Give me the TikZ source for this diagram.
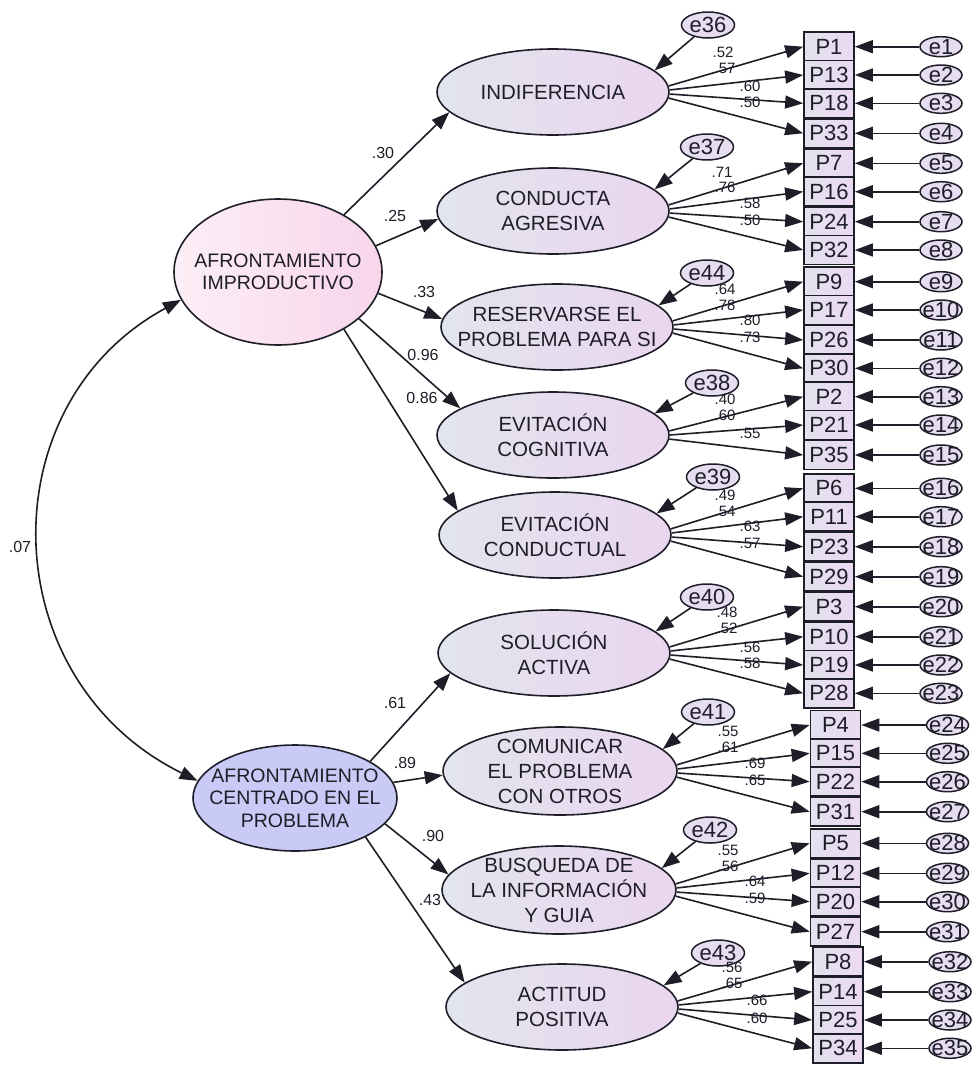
\documentclass[tikz,border=0pt]{standalone}
\usepackage{fontspec}
\setmainfont{Liberation Sans}
\usetikzlibrary{arrows.meta,shapes.geometric}
\definecolor{latL}{HTML}{E2E5EE}
\definecolor{latR}{HTML}{EAD5EF}
\definecolor{impL}{HTML}{FCEFF6}
\definecolor{impR}{HTML}{F8D5EA}
\definecolor{cenC}{HTML}{C9CAF5}
\definecolor{boxL}{HTML}{E3E2EF}
\definecolor{boxR}{HTML}{EBD9F2}
\definecolor{errC}{HTML}{E7DDF1}
\definecolor{ink}{HTML}{1E1E28}
\begin{document}
\begin{tikzpicture}[x=1pt,y=-1pt,
  every node/.style={text=ink},
  lat/.style={ellipse, draw=ink, line width=1.6pt, minimum width=232pt, minimum height=86pt, inner sep=0pt, left color=latL, right color=latR},
  lt/.style={align=center, font=\fontsize{20.5}{25}\selectfont},
  lt2/.style={align=center, font=\fontsize{19.5}{22.5}\selectfont},
  box/.style={rectangle, draw=ink, line width=1.7pt, minimum width=50pt, minimum height=29pt, inner sep=0pt, left color=boxL, right color=boxR, font=\fontsize{22}{22}\selectfont},
  err/.style={ellipse, draw=ink, line width=1.5pt, minimum width=42pt, minimum height=20pt, inner sep=0pt, fill=errC},
  efont/.style={font=\fontsize{22}{22}\selectfont},
  errb/.style={ellipse, draw=ink, line width=1.5pt, minimum width=53pt, minimum height=26pt, inner sep=0pt, fill=errC},
  ebfont/.style={font=\fontsize{22}{22}\selectfont},
  arr/.style={draw=ink, line width=1.6pt, -{Triangle[length=18pt,width=13pt]}},
  pl/.style={font=\fontsize{16}{16}\selectfont, inner sep=0pt},
  ld/.style={font=\fontsize{15}{15}\selectfont, inner sep=0pt}
]
\useasboundingbox (0,0) rectangle (974,1066);
\fill[white] (0,0) rectangle (974,1066);

% second-order latents
\node[ellipse, draw=ink, line width=1.6pt, minimum width=208pt, minimum height=146pt, inner sep=0pt, left color=impL, right color=impR, label={[lt2]center:{AFRONTAMIENTO\\IMPRODUCTIVO}}] (imp) at (278,272) {};
\node[ellipse, draw=ink, line width=1.6pt, minimum width=204pt, minimum height=106pt, inner sep=0pt, fill=cenC, label={[lt2]center:{AFRONTAMIENTO\\CENTRADO EN EL\\PROBLEMA}}] (cen) at (295,798) {};

% first-order latents
\node[lat, label={[lt]center:{INDIFERENCIA}}] (ind) at (553,92) {};
\node[lat, label={[lt]center:{CONDUCTA\\AGRESIVA}}] (con) at (553,211) {};
\node[lat, label={[lt]center:{RESERVARSE EL\\PROBLEMA PARA SI}}] (res) at (557,327) {};
\node[lat, label={[lt]center:{EVITACIÓN\\COGNITIVA}}] (cog) at (553,435) {};
\node[lat, label={[lt]center:{EVITACIÓN\\CONDUCTUAL}}] (cnd) at (555,535) {};
\node[lat, label={[lt]center:{SOLUCIÓN\\ACTIVA}}] (sol) at (554,653) {};
\node[lat, minimum width=234pt, minimum height=88pt, label={[lt]center:{COMUNICAR\\EL PROBLEMA\\CON OTROS}}] (com) at (560,771) {};
\node[lat, minimum width=234pt, minimum height=88pt, label={[lt]center:{BUSQUEDA DE\\LA INFORMACIÓN\\Y GUIA}}] (bus) at (559,890) {};
\node[lat, label={[lt]center:{ACTITUD\\POSITIVA}}] (act) at (562,1007) {};

% disturbance terms
\foreach \n/\x/\y/\l in {e36/708/25/ind, e37/707/147/con, e44/707/273/res, e38/712/383/cog, e39/713/477/cnd, e40/707/597/sol, e41/708/712/com, e42/710/830/bus, e43/718/953/act}{
  \node[errb, label={[ebfont]center:\n}] (\n) at (\x,\y) {};
  \draw[arr] (\n) -- (\l.12);
}

% indicators and their errors
\foreach \i/\p/\y/\x in {1/P1/46.7/829, 2/P13/75/829, 3/P18/103.3/829, 4/P33/133.3/829,
  5/P7/163.3/829, 6/P16/191.7/829, 7/P24/221.7/829, 8/P32/250/829,
  9/P9/281.7/829, 10/P17/310/829, 11/P26/340/829, 12/P30/368.3/829,
  13/P2/396.7/829, 14/P21/425/829, 15/P35/455/829,
  16/P6/488.3/829, 17/P11/516.7/829, 18/P23/546.7/829, 19/P29/576.7/829,
  20/P3/606.7/829, 21/P10/636.7/829, 22/P19/665/829, 23/P28/693.3/829,
  24/P4/725/835.5, 25/P15/753.3/835.5, 26/P22/781.7/835.5, 27/P31/811.7/835.5,
  28/P5/843.3/835.5, 29/P12/873.3/835.5, 30/P20/901.7/835.5, 31/P27/931.7/835.5,
  32/P8/961.7/838, 33/P14/991.7/838, 34/P25/1020/838, 35/P34/1048.3/838}{
  \node[box] (\p) at (\x,\y) {\p};
  \node[err, label={[efont]center:e\i}] (e\i) at (\x+112,\y) {};
  \draw[arr] (e\i) -- (\p);
}

% loadings
\foreach \b/\a in {P1/3,P13/1,P18/359,P33/357} \draw[arr] (ind.\a) -- (\b.west);
\foreach \b/\a in {P7/3,P16/1,P24/359,P32/357} \draw[arr] (con.\a) -- (\b.west);
\foreach \b/\a in {P9/3,P17/1,P26/359,P30/357} \draw[arr] (res.\a) -- (\b.west);
\foreach \b/\a in {P2/2,P21/0,P35/358} \draw[arr] (cog.\a) -- (\b.west);
\foreach \b/\a in {P6/3,P11/1,P23/359,P29/357} \draw[arr] (cnd.\a) -- (\b.west);
\foreach \b/\a in {P3/3,P10/1,P19/359,P28/357} \draw[arr] (sol.\a) -- (\b.west);
\foreach \b/\a in {P4/3,P15/1,P22/359,P31/357} \draw[arr] (com.\a) -- (\b.west);
\foreach \b/\a in {P5/3,P12/1,P20/359,P27/357} \draw[arr] (bus.\a) -- (\b.west);
\foreach \b/\a in {P8/3,P14/1,P25/359,P34/357} \draw[arr] (act.\a) -- (\b.west);

% loading values
\foreach \t/\x/\y [count=\k] in {.52/723/52, .57/725/68, .60/750/86, .50/750/102,
  .71/722/172, .76/725/187, .58/750/203, .50/750/220,
  .64/725/289, .78/725/305, .80/750/320, .73/750/337,
  .40/725/399, .60/725/415, .55/750/433,
  .49/725/495, .54/725/511, .63/750/526, .57/750/543,
  .48/727/612, .52/727/628, .56/750/647, .58/750/663,
  .55/728/731, .61/728/747, .69/755/763, .65/755/780,
  .55/728/850, .56/728/866, .64/755/881, .59/755/898,
  .56/732/967, .65/732/983, .66/757/1000, .60/757/1018}{
  \node[ld] (ld\k) at (\x,\y) {\t};
}

% structural path values (drawn before paths)
\node[pl] (p1) at (383,153) {.30};
\node[pl] (p2) at (395,216) {.25};
\node[pl] (p3) at (424,292) {.33};
\node[pl] (p4) at (423,355) {0.96};
\node[pl] (p5) at (422,398) {0.86};
\node[pl] (p6) at (395,703) {.61};
\node[pl] (p7) at (405,763) {.89};
\node[pl] (p8) at (433,836) {.90};
\node[pl] (p9) at (430,900) {.43};
\node[pl] (p10) at (20,547) {.07};

% structural paths
\draw[arr] (imp.41) -- (ind.191);
\draw[arr] (imp.15) -- (con.184);
\draw[arr] (imp.348) -- (res.176);
\draw[arr] (imp.330) -- (cog.164);
\draw[arr] (imp.319) -- (cnd.166);
\draw[arr] (cen.26) -- (sol.191);
\draw[arr] (cen.9) -- (com.182);
\draw[arr] (cen.344) -- (bus.172);
\draw[arr] (cen.331) -- (act.166);

% covariance
\draw[draw=ink, line width=1.6pt, {Triangle[length=18pt,width=13pt]}-{Triangle[length=18pt,width=13pt]}] (imp.196) .. controls (-13,405) and (-7,680) .. (cen.170);
\end{tikzpicture}
\end{document}
